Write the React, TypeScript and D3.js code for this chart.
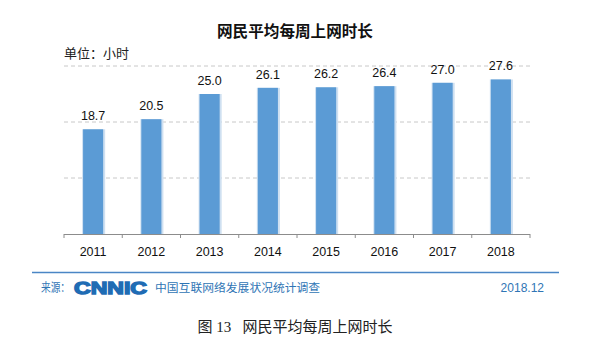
import React, { useRef, useEffect } from "react";
import * as d3 from "d3";

// data
const years = ["2011", "2012", "2013", "2014", "2015", "2016", "2017", "2018"];
const hours = [18.7, 20.5, 25.0, 26.1, 26.2, 26.4, 27.0, 27.6];
const gridValues = [10, 20, 30];

const title = "网民平均每周上网时长";
const unitLabel = "单位：小时";
const sourceLabel = "来源：";
const logoText = "CNNIC";
const surveyName = "中国互联网络发展状况统计调查";
const dateLabel = "2018.12";
const caption = "图 13   网民平均每周上网时长";

const CJK = "'Noto Sans CJK SC', sans-serif";
const NUM = "'Liberation Sans Narrow', 'Liberation Sans', Arial, sans-serif";

const App = () => {
  const svgRef = useRef<SVGSVGElement>(null);

  useEffect(() => {
    const W = 600;
    const H = 353;
    const svg = d3.select(svgRef.current);
    svg.attr("width", W).attr("height", H).style("background", "#fff");
    svg.selectAll("*").remove();

    const left = 64;
    const right = 530;
    const baseline = 234;

    const x = d3.scaleBand().domain(years).range([left, right]).paddingInner(0.655).paddingOuter(0.3275);
    const y = d3.scaleLinear().domain([0, 30]).range([baseline, baseline - 168]);

    // title
    svg.append("text")
      .attr("x", 295)
      .attr("y", 37)
      .attr("text-anchor", "middle")
      .attr("font-family", CJK)
      .attr("font-weight", 700)
      .attr("font-size", 15.6)
      .attr("fill", "#111")
      .text(title);

    svg.append("text")
      .attr("x", left)
      .attr("y", 58)
      .attr("font-family", CJK)
      .attr("font-size", 13)
      .attr("fill", "#222")
      .text(unitLabel);

    // dashed gridlines
    svg.append("g")
      .selectAll("line")
      .data(gridValues)
      .join("line")
      .attr("x1", left)
      .attr("x2", right)
      .attr("y1", (d) => y(d))
      .attr("y2", (d) => y(d))
      .attr("stroke", "#c8c8c8")
      .attr("stroke-dasharray", "4,3");

    // bars with a pale edge
    const bars = svg.append("g");
    bars.selectAll("rect.edge")
      .data(hours)
      .join("rect")
      .attr("class", "edge")
      .attr("x", (d, i) => x(years[i])! - 1)
      .attr("y", (d) => y(d))
      .attr("width", x.bandwidth() + 3)
      .attr("height", (d) => baseline - y(d))
      .attr("fill", "#cfe0f1");
    bars.selectAll("rect.bar")
      .data(hours)
      .join("rect")
      .attr("class", "bar")
      .attr("x", (d, i) => x(years[i])!)
      .attr("y", (d) => y(d))
      .attr("width", x.bandwidth())
      .attr("height", (d) => baseline - y(d))
      .attr("fill", "#5b9bd5");

    // value labels
    svg.append("g")
      .selectAll("text")
      .data(hours)
      .join("text")
      .attr("x", (d, i) => x(years[i])! + x.bandwidth() / 2)
      .attr("y", (d) => y(d) - 9)
      .attr("text-anchor", "middle")
      .attr("font-family", NUM)
      .attr("font-size", 12.5)
      .attr("fill", "#111")
      .text((d) => d.toFixed(1));

    // x axis: line, boundary ticks, labels
    const axis = svg.append("g");
    axis.append("line")
      .attr("x1", left)
      .attr("x2", right)
      .attr("y1", baseline + 0.5)
      .attr("y2", baseline + 0.5)
      .attr("stroke", "#8c8c8c");
    const step = x.step();
    axis.selectAll("line.tick")
      .data(d3.range(years.length + 1))
      .join("line")
      .attr("class", "tick")
      .attr("x1", (d) => left + d * step)
      .attr("x2", (d) => left + d * step)
      .attr("y1", baseline)
      .attr("y2", baseline + 4)
      .attr("stroke", "#8c8c8c");
    axis.selectAll("text")
      .data(years)
      .join("text")
      .attr("x", (d) => x(d)! + x.bandwidth() / 2)
      .attr("y", 256)
      .attr("text-anchor", "middle")
      .attr("font-family", NUM)
      .attr("font-size", 12.5)
      .attr("fill", "#111")
      .text((d) => d);

    // footer
    svg.append("line")
      .attr("x1", 32)
      .attr("x2", 559)
      .attr("y1", 272.5)
      .attr("y2", 272.5)
      .attr("stroke", "#4a86c5")
      .attr("stroke-width", 1.5);

    svg.append("text")
      .attr("x", 41)
      .attr("y", 292)
      .attr("font-family", CJK)
      .attr("font-size", 12)
      .attr("textLength", 29)
      .attr("lengthAdjust", "spacingAndGlyphs")
      .attr("fill", "#2f75b5")
      .text(sourceLabel);

    svg.append("text")
      .attr("x", 74)
      .attr("y", 294)
      .attr("font-family", "'Liberation Sans', Arial")
      .attr("font-weight", 700)
      .attr("font-size", 17)
      .attr("textLength", 73)
      .attr("lengthAdjust", "spacingAndGlyphs")
      .attr("fill", "#1f6cb4")
      .attr("stroke", "#1f6cb4")
      .attr("stroke-width", 1.4)
      .text(logoText);

    svg.append("text")
      .attr("x", 155)
      .attr("y", 292)
      .attr("font-family", CJK)
      .attr("font-size", 11.8)
      .attr("fill", "#2f75b5")
      .text(surveyName);

    svg.append("text")
      .attr("x", 544)
      .attr("y", 292)
      .attr("text-anchor", "end")
      .attr("font-family", "'Liberation Sans', Arial")
      .attr("font-size", 12)
      .attr("fill", "#2f75b5")
      .text(dateLabel);

    svg.append("text")
      .attr("x", 295)
      .attr("y", 332)
      .attr("text-anchor", "middle")
      .attr("font-family", "'Liberation Serif', 'Noto Sans CJK SC', serif")
      .attr("font-size", 15)
      .attr("fill", "#222")
      .style("white-space", "pre")
      .text(caption);
  }, []);

  return <svg ref={svgRef} style={{ position: "absolute", left: 0, top: 0 }}></svg>;
};

export default App;
